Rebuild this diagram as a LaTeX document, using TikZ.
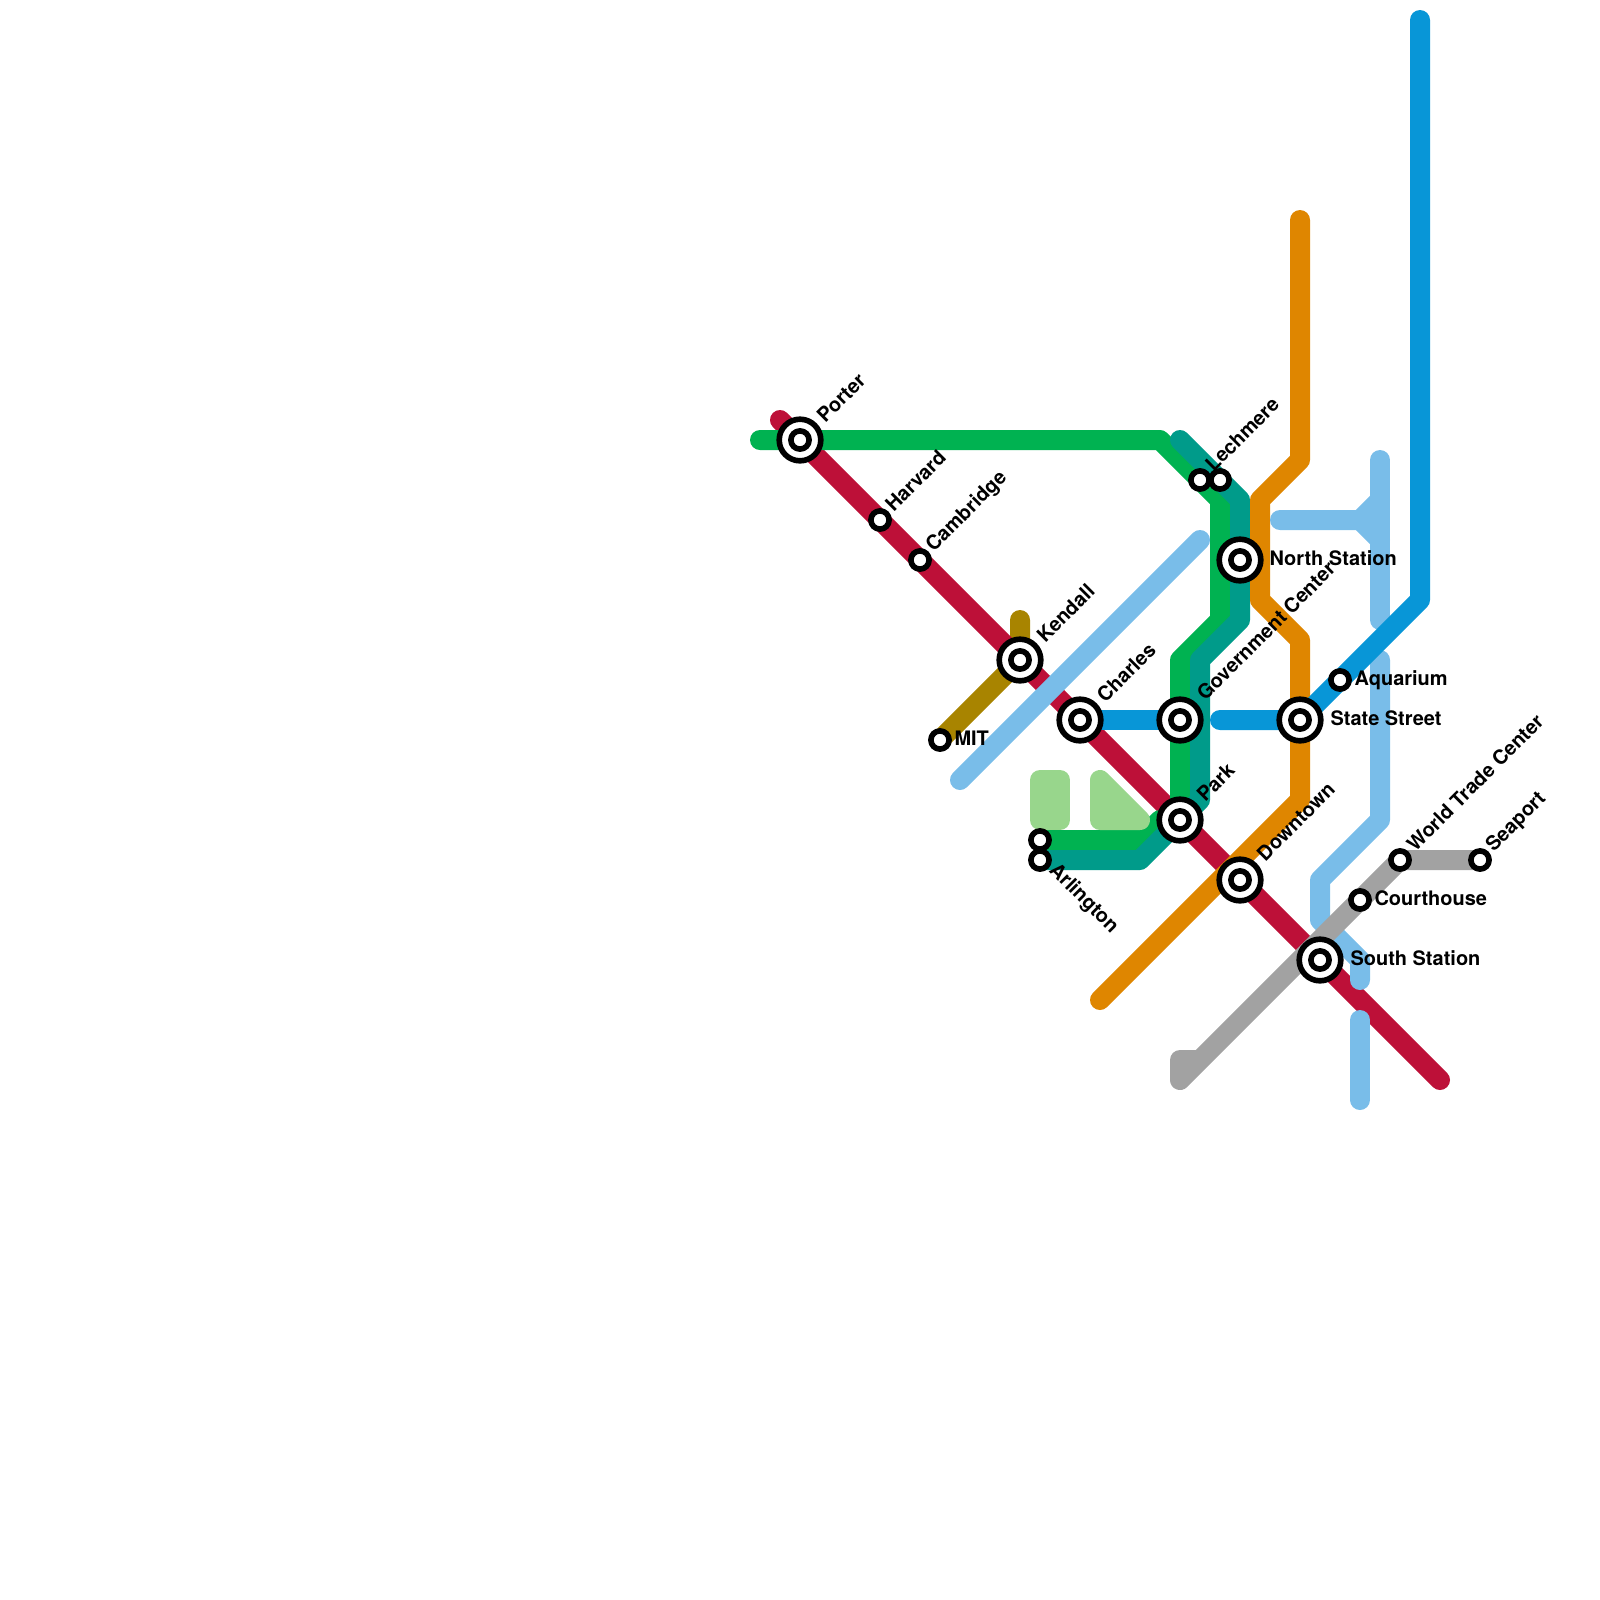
\documentclass[tikz,border=0pt]{standalone}
\usepackage{fontspec}
\setmainfont{TeX Gyre Heros}
\definecolor{redline}{HTML}{BD1038}
\definecolor{greenline}{HTML}{00B251}
\definecolor{tealline}{HTML}{009B8A}
\definecolor{orangeline}{HTML}{DF8600}
\definecolor{blueline}{HTML}{0896D7}
\definecolor{skyline}{HTML}{79BDE9}
\definecolor{grayline}{HTML}{A2A2A2}
\definecolor{oliveline}{HTML}{A88400}
\definecolor{paleline}{HTML}{98D68C}

\begin{document}
\begin{tikzpicture}[
  x=0.25cm,
  y=-0.25cm,
  line cap=round,
  line join=round,
  metro/.style={line width=0.25cm},
  station/.style={circle,draw=black,fill=white,line width=2pt,
    inner sep=0pt,minimum size=0.2275cm},
  hub/.style={circle,draw=black,fill=white,line width=2pt,
    inner sep=0pt,minimum size=0.52cm},
  stationlabel/.style={font=\fontsize{7.1}{8}\selectfont\bfseries,inner sep=0pt},
  uplabel/.style={stationlabel,anchor=base west,rotate=45},
  downlabel/.style={stationlabel,anchor=base west,rotate=-45},
  sidelabel/.style={stationlabel,anchor=base west}
]
  \useasboundingbox (0,0) rectangle (80,80);

  % Branch lines below the main line
  \draw[metro,oliveline] (51,31) -- (51,33) -- (47,37);
  \draw[metro,redline] (39,21) -- (72,54);

  % Green and teal run side by side
  \draw[metro,greenline] (38,22) -- (58,22) -- (61,25) -- (61,31) -- (59,33)
    -- (59,41) -- (58,41) -- (57,42) -- (52,42);

  % Pale green blocks beside Park
  \draw[metro,paleline,fill=paleline] (52,39) -- (53,39) -- (53,41) -- (52,41) -- cycle;
  \draw[metro,paleline,fill=paleline] (55,39) -- (57,41) -- (55,41) -- cycle;

  \draw[metro,tealline] (59,22) -- (62,25) -- (62,31) -- (60,33) -- (60,40)
    -- (57,43) -- (52,43);

  % Orange
  \draw[metro,orangeline] (65,11) -- (65,23) -- (63,25) -- (63,30) -- (65,32)
    -- (65,40) -- (55,50);

  % Sky blue pieces
  \draw[metro,skyline] (48,39) -- (60,27);
  \draw[metro,skyline] (69,23) -- (69,31);
  \draw[metro,skyline] (64,26) -- (68,26) -- (69,25);
  \draw[metro,skyline] (68,26) -- (69,27);
  \draw[metro,skyline] (69,33) -- (69,41) -- (66,44) -- (66,46) -- (68,48) -- (68,49);
  \draw[metro,skyline] (68,51) -- (68,55);

  % Blue
  \draw[metro,blueline] (71,1) -- (71,30) -- (65,36) -- (61,36);
  \draw[metro,blueline] (54,36) -- (59,36);

  % Gray
  \draw[metro,grayline] (60,53) -- (59,53) -- (59,54) -- (70,43) -- (74,43);

  % Plain stations
  \foreach \sx/\sy/\sname in {44/26/harvard, 46/28/cambridge, 47/37/mit,
      60/24/lechmereone, 61/24/lechmeretwo, 67/34/aquarium, 68/45/courthouse,
      70/43/worldtrade, 74/43/seaport, 52/42/arlingtonone, 52/43/arlingtontwo} {
    \node[station] (\sname) at (\sx,\sy) {};
  }

  % Interchanges: outer ring with a plain station inside
  \foreach \sx/\sy/\sname in {40/22/porter, 51/33/kendall, 54/36/charles,
      59/36/government, 59/41/park, 62/28/north, 65/36/state, 62/44/downtown,
      66/48/south} {
    \node[hub] (\sname) at (\sx,\sy) {};
    \node[station] (\sname inner) at (\sx,\sy) {};
  }

  % Station names
  \foreach \lx/\ly/\ltext in {41.25/21.2/Porter, 44.67/25.65/Harvard,
      46.67/27.65/Cambridge, 52.25/32.2/Kendall, 55.25/35.2/Charles,
      60.25/35.1/Government Center, 60.25/40.15/Park, 60.67/23.65/Lechmere,
      63.25/43.12/Downtown, 70.75/42.65/World Trade Center, 74.67/42.65/Seaport} {
    \node[uplabel] at (\lx,\ly) {\ltext};
  }
  \foreach \lx/\ly/\ltext in {63.45/28.25/North Station, 66.5/36.25/State Street,
      67.7/34.25/Aquarium, 68.7/45.25/Courthouse, 67.5/48.25/South Station,
      47.7/37.25/MIT} {
    \node[sidelabel] at (\lx,\ly) {\ltext};
  }
  \node[downlabel] at (52.4,43.55) {Arlington};
\end{tikzpicture}
\end{document}
